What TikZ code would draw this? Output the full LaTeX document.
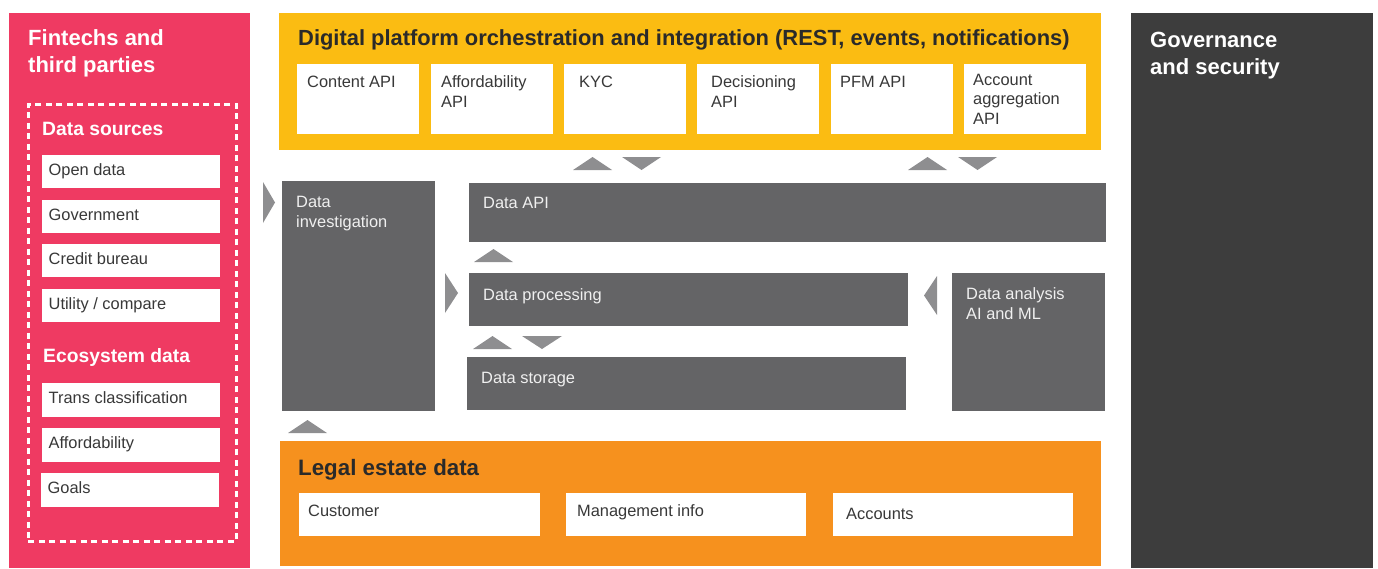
\documentclass[tikz,border=0pt]{standalone}
\usepackage{fontspec}
\setmainfont{Liberation Sans}
\definecolor{fintech}{HTML}{EF3A62}
\definecolor{orch}{HTML}{FBBC12}
\definecolor{legal}{HTML}{F6911E}
\definecolor{gov}{HTML}{3D3D3D}
\definecolor{datagrey}{HTML}{646466}
\definecolor{flowgrey}{HTML}{8E8E90}
\definecolor{ink}{HTML}{2A2A2A}
\definecolor{boxink}{HTML}{383838}

% block from (#3,#4) to (#5,#6), top-left origin, y downwards
\newcommand\blk[6]{%
  \node[#2, anchor=north west, minimum width={(#5-#3)*1pt},
        minimum height={(#6-#4)*1pt}] (#1) at (#3,#4) {};}

\begin{document}
\begin{tikzpicture}[x=1pt,y=-1pt,
  panel/.style={draw=none, inner sep=0pt, outer sep=0pt},
  whitebox/.style={panel, fill=white},
  databox/.style={panel, fill=datagrey},
  headline/.style={inner sep=0pt, anchor=base west, text=#1, align=left,
    font={\bfseries\fontsize{22}{27}\selectfont}},
  subhead/.style={inner sep=0pt, anchor=base west, text=white,
    font={\bfseries\fontsize{19.3}{23}\selectfont}},
  boxtext/.style={inner sep=0pt, anchor=base west, text=#1, align=left,
    font={\fontsize{16.4}{20}\selectfont}},
  boxtext/.default=boxink,
  flow/.style={fill=flowgrey, draw=none}]

\useasboundingbox (0,0) rectangle (1378,568);

% ---- main panels
\blk{fin}{panel, fill=fintech}{9}{13}{250}{568}
\blk{orch}{panel, fill=orch}{279}{13}{1101}{150}
\blk{gov}{panel, fill=gov}{1131}{13}{1373}{568}
\blk{legal}{panel, fill=legal}{280}{441}{1101}{566}

% ---- fintechs and third parties
\node[headline=white] (finT) at ([xshift=19pt,yshift=-59pt]fin.north west)
  {Fintechs and\\third parties};
\blk{src}{draw=white, line width=2.8pt, dash pattern=on 6pt off 4.5pt,
  inner sep=0pt}{27}{103}{235}{540}
\node[subhead] (srcT) at (42,135) {Data sources};
\node[subhead] (ecoT) at (43,362) {Ecosystem data};

\blk{open}{whitebox}{42}{155}{220}{188}
\blk{govt}{whitebox}{42}{200}{220}{233}
\blk{credit}{whitebox}{42}{244}{220}{277}
\blk{util}{whitebox}{42}{289}{220}{322}
\blk{trans}{whitebox}{42}{383}{220}{417}
\blk{afford}{whitebox}{42}{428}{220}{462}
\blk{goals}{whitebox}{41}{473}{219}{507}
\foreach \b/\t in {open/{Open data}, govt/{Government}, credit/{Credit bureau},
    util/{Utility / compare}, trans/{Trans classification},
    afford/{Affordability}, goals/{Goals}}
  \node[boxtext] (\b T) at ([xshift=6.5pt,yshift=-20pt]\b.north west) {\t};

% ---- orchestration layer
\node[headline=ink, font={\bfseries\fontsize{21.9}{27}\selectfont}] (orchT) at (298,45)
  {Digital platform orchestration and integration (REST, events, notifications)};
\blk{content}{whitebox}{297}{64}{419}{134}
\blk{affapi}{whitebox}{431}{64}{553}{134}
\blk{kyc}{whitebox}{564}{64}{686}{134}
\blk{decis}{whitebox}{697}{64}{819}{134}
\blk{pfm}{whitebox}{831}{64}{953}{134}
\blk{aggr}{whitebox}{964}{64}{1086}{134}
\node[boxtext] (contentT) at ([xshift=10pt,yshift=-23pt]content.north west) {Content API};
\node[boxtext] (affapiT) at ([xshift=10pt,yshift=-43pt]affapi.north west) {Affordability\\API};
\node[boxtext] (kycT) at ([xshift=15pt,yshift=-23pt]kyc.north west) {KYC};
\node[boxtext] (decisT) at ([xshift=14pt,yshift=-43pt]decis.north west) {Decisioning\\API};
\node[boxtext] (pfmT) at ([xshift=9pt,yshift=-23pt]pfm.north west) {PFM API};
\node[boxtext, font={\fontsize{16.4}{19.5}\selectfont}] (aggrT)
  at ([xshift=9pt,yshift=-60pt]aggr.north west) {Account\\aggregation\\API};

% ---- governance
\node[headline=white] (govT) at ([xshift=19pt,yshift=-61pt]gov.north west)
  {Governance\\and security};

% ---- data platform
\blk{inv}{databox}{282}{181}{435}{411}
\blk{dapi}{databox}{469}{183}{1106}{242}
\blk{proc}{databox}{469}{273}{908}{326}
\blk{stor}{databox}{467}{357}{906}{410}
\blk{ana}{databox}{952}{273}{1105}{411}
\node[boxtext=white!94!black] (invT) at ([xshift=14pt,yshift=-46pt]inv.north west) {Data\\investigation};
\node[boxtext=white!94!black] (dapiT) at ([xshift=14pt,yshift=-25pt]dapi.north west) {Data API};
\node[boxtext=white!94!black] (procT) at ([xshift=14pt,yshift=-27pt]proc.north west) {Data processing};
\node[boxtext=white!94!black] (storT) at ([xshift=14pt,yshift=-26pt]stor.north west) {Data storage};
\node[boxtext=white!94!black] (anaT) at ([xshift=14pt,yshift=-46pt]ana.north west) {Data analysis\\AI and ML};

% ---- legal estate data
\node[headline=ink, font={\bfseries\fontsize{22.3}{27}\selectfont}] (legalT) at (298,475) {Legal estate data};
\blk{cust}{whitebox}{299}{493}{540}{536}
\blk{mgmt}{whitebox}{566}{493}{806}{536}
\blk{acct}{whitebox}{833}{493}{1073}{536}
\node[boxtext] (custT) at ([xshift=9pt,yshift=-23pt]cust.north west) {Customer};
\node[boxtext] (mgmtT) at ([xshift=11pt,yshift=-23pt]mgmt.north west) {Management info};
\node[boxtext] (acctT) at ([xshift=13pt,yshift=-26pt]acct.north west) {Accounts};

% ---- flow markers between layers
% orchestration <-> data API
\fill[flow] (573,170) -- (612,170) -- (592.5,157) -- cycle;
\fill[flow] (622,157) -- (661,157) -- (641.5,170) -- cycle;
\fill[flow] (908,170) -- (947,170) -- (927.5,157) -- cycle;
\fill[flow] (958,157) -- (997,157) -- (977.5,170) -- cycle;
% into data investigation
\fill[flow] (263,182) -- (263,223) -- (275,202.5) -- cycle;
\fill[flow] (288,433) -- (327,433) -- (307.5,420) -- cycle;
% processing -> data API
\fill[flow] (474,262) -- (513,262) -- (493.5,249) -- cycle;
% into processing
\fill[flow] (445,273) -- (445,313) -- (458,293) -- cycle;
\fill[flow] (937,276) -- (937,315) -- (924,295.5) -- cycle;
% processing <-> storage
\fill[flow] (473,349) -- (512,349) -- (492.5,336) -- cycle;
\fill[flow] (522,336) -- (562,336) -- (542,349) -- cycle;
\end{tikzpicture}
\end{document}
